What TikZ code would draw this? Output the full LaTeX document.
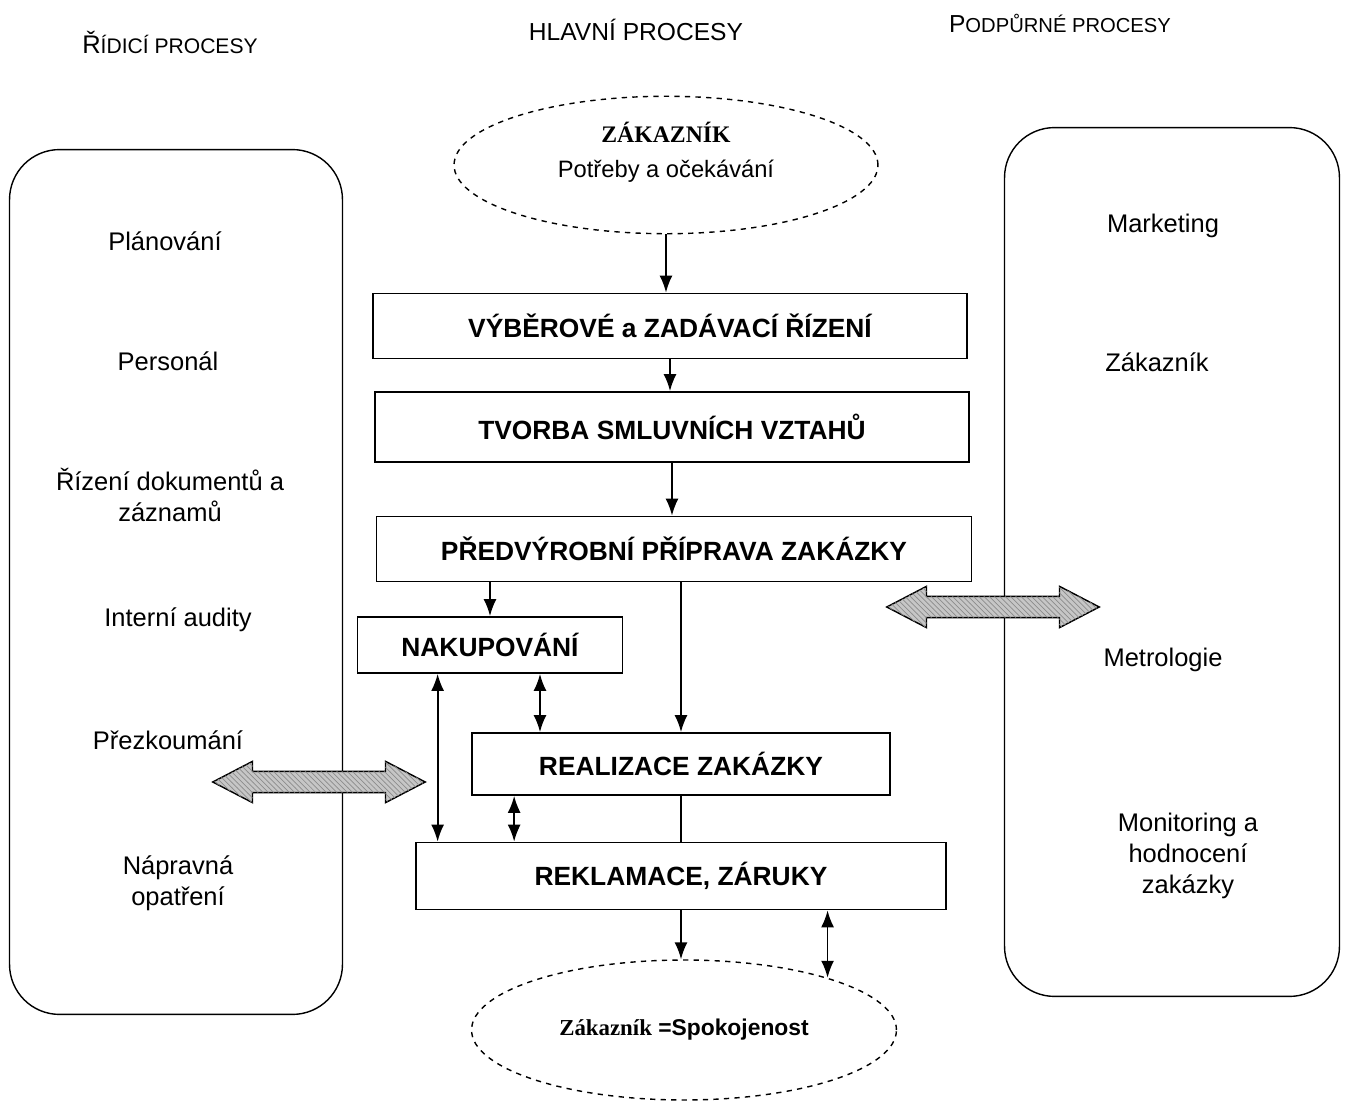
\documentclass[tikz,border=0pt]{standalone}
\usepackage{fontspec}
\setmainfont{Liberation Sans}
\newfontfamily\serifbf{Liberation Serif}
\usepackage{tikz}
\usetikzlibrary{
    shapes.geometric, shapes.arrows, arrows.meta, positioning,
    patterns
}

\begin{document}
\begin{tikzpicture}[x=0.02cm, y=-0.02cm, >={Latex[length=3.4mm,width=2.6mm]}]
    % Define styles for the nodes
    \tikzstyle{step_box} = [
        text centered, draw, line width=1pt, minimum height=1.3cm,
        font=\fontsize{15}{18}\selectfont\bfseries
    ]
    \tikzstyle{side_box} = [
        draw, thick, rounded corners=1cm
    ]
    \tikzstyle{side_text} = [
        align=center, font=\fontsize{14.5}{17.5}\selectfont
    ]
    \tikzstyle{cust_oval} = [
        ellipse, draw, thick, dashed, align=center,
        font=\fontsize{13.5}{20}\selectfont
    ]
    \tikzstyle{wide_arrow} = [
        double arrow, draw, thick, fill=gray!45,
        postaction={pattern=north west lines, pattern color=gray!90},
        minimum height=4.25cm, minimum width=0.8cm,
        inner xsep=0pt, inner ysep=0.2cm,
        double arrow head extend=0.2cm, double arrow tip angle=55
    ]

    \useasboundingbox (0,0) rectangle (1346,1104);

    % Column headers
    \node[font=\fontsize{14.5}{17}\selectfont] (h_ridici) at (170,42)
        {Ř{\fontsize{12}{14}\selectfont ÍDICÍ PROCESY}};
    \node[font=\fontsize{14}{17}\selectfont] (h_hlavni) at (636,30)
        {HLAVNÍ PROCESY};
    \node[font=\fontsize{14}{17}\selectfont] (h_podpurne) at (1060,23)
        {P{\fontsize{11.5}{14}\selectfont ODPŮRNÉ PROCESY}};

    % Left column
    \node[side_box, minimum width=6.66cm, minimum height=17.3cm] (ridici) at (176,582) {};
    \node[side_text] (planovani) at (165,241) {Plánování};
    \node[side_text] (personal) at (168,361) {Personál};
    \node[side_text] (dokumenty) at (170,495) {Řízení dokumentů a\\záznamů};
    \node[side_text] (audity) at (178,620) {Interní audity};
    \node[side_text] (prezkoumani) at (168,740) {Přezkoumání};
    \node[side_text] (napravna) at (178,883) {Nápravná\\opatření};

    % Right column
    \node[side_box, minimum width=6.7cm, minimum height=17.38cm] (podpurne) at (1172,562) {};
    \node[side_text] (marketing) at (1163,226) {Marketing};
    \node[side_text] (zakaznik_r) at (1157,362) {Zákazník};
    \node[side_text] (metrologie) at (1163,660) {Metrologie};
    \node[side_text] (monitoring) at (1188,856) {Monitoring a\\hodnocení\\zakázky};

    % Main processes
    \node[cust_oval, minimum width=8.48cm, minimum height=2.5cm, text depth=0.6cm] (zakaznik) at (666,165)
        {{\serifbf\bfseries\fontsize{13.5}{15}\selectfont ZÁKAZNÍK}\\Potřeby a očekávání};
    \node[step_box, minimum width=11.88cm] (vyber) at (670,326) {VÝBĚROVÉ a ZADÁVACÍ ŘÍZENÍ};
    \node[step_box, minimum width=11.88cm, minimum height=1.4cm] (tvorba) at (672,427) {TVORBA SMLUVNÍCH VZTAHŮ};
    \node[step_box, minimum width=11.9cm] (pred) at (674,549) {PŘEDVÝROBNÍ PŘÍPRAVA ZAKÁZKY};
    \node[step_box, minimum width=5.3cm, minimum height=1.12cm] (nakup) at (490,645) {NAKUPOVÁNÍ};
    \node[step_box, minimum width=8.36cm, minimum height=1.24cm] (real) at (681,764) {REALIZACE ZAKÁZKY};
    \node[step_box, minimum width=10.6cm, minimum height=1.34cm] (rekl) at (681,876) {REKLAMACE, ZÁRUKY};
    \node[cust_oval, minimum width=8.5cm, minimum height=2.8cm, font=\fontsize{13}{15}\selectfont\bfseries] (spok) at (684,1030)
        {{\serifbf Zákazník} =Spokojenost};

    % Links between columns
    \node[wide_arrow] (link_l) at (319,782) {};
    \node[wide_arrow] (link_r) at (993,607) {};

    % Flow arrows
    \draw[->, line width=1pt] (zakaznik.south) -- (zakaznik.south |- vyber.north);
    \draw[->, line width=1pt] (vyber.south) -- (vyber.south |- tvorba.north);
    \draw[->, line width=1pt] (tvorba.south) -- (tvorba.south |- pred.north);
    \draw[->, line width=1pt] (nakup.north |- pred.south) -- (nakup.north);
    \draw[->, line width=1pt] (real.north |- pred.south) -- (real.north);
    \draw[<->, line width=1pt] ([xshift=1.62cm]nakup.south west) -- ([xshift=1.62cm]nakup.south west |- rekl.north);
    \draw[<->, line width=1pt] ([xshift=1cm]nakup.south) -- ([xshift=1cm]nakup.south |- real.north);
    \draw[<->, line width=1pt] ([xshift=0.86cm]real.south west) -- ([xshift=0.86cm]real.south west |- rekl.north);
    \draw[line width=1pt] (real.south) -- (real.south |- rekl.north);
    \draw[->, line width=1pt] (rekl.south) -- (rekl.south |- spok.north);
    \draw[<->, line width=1pt] (spok.20 |- rekl.south) -- (spok.20);

\end{tikzpicture}
\end{document}
